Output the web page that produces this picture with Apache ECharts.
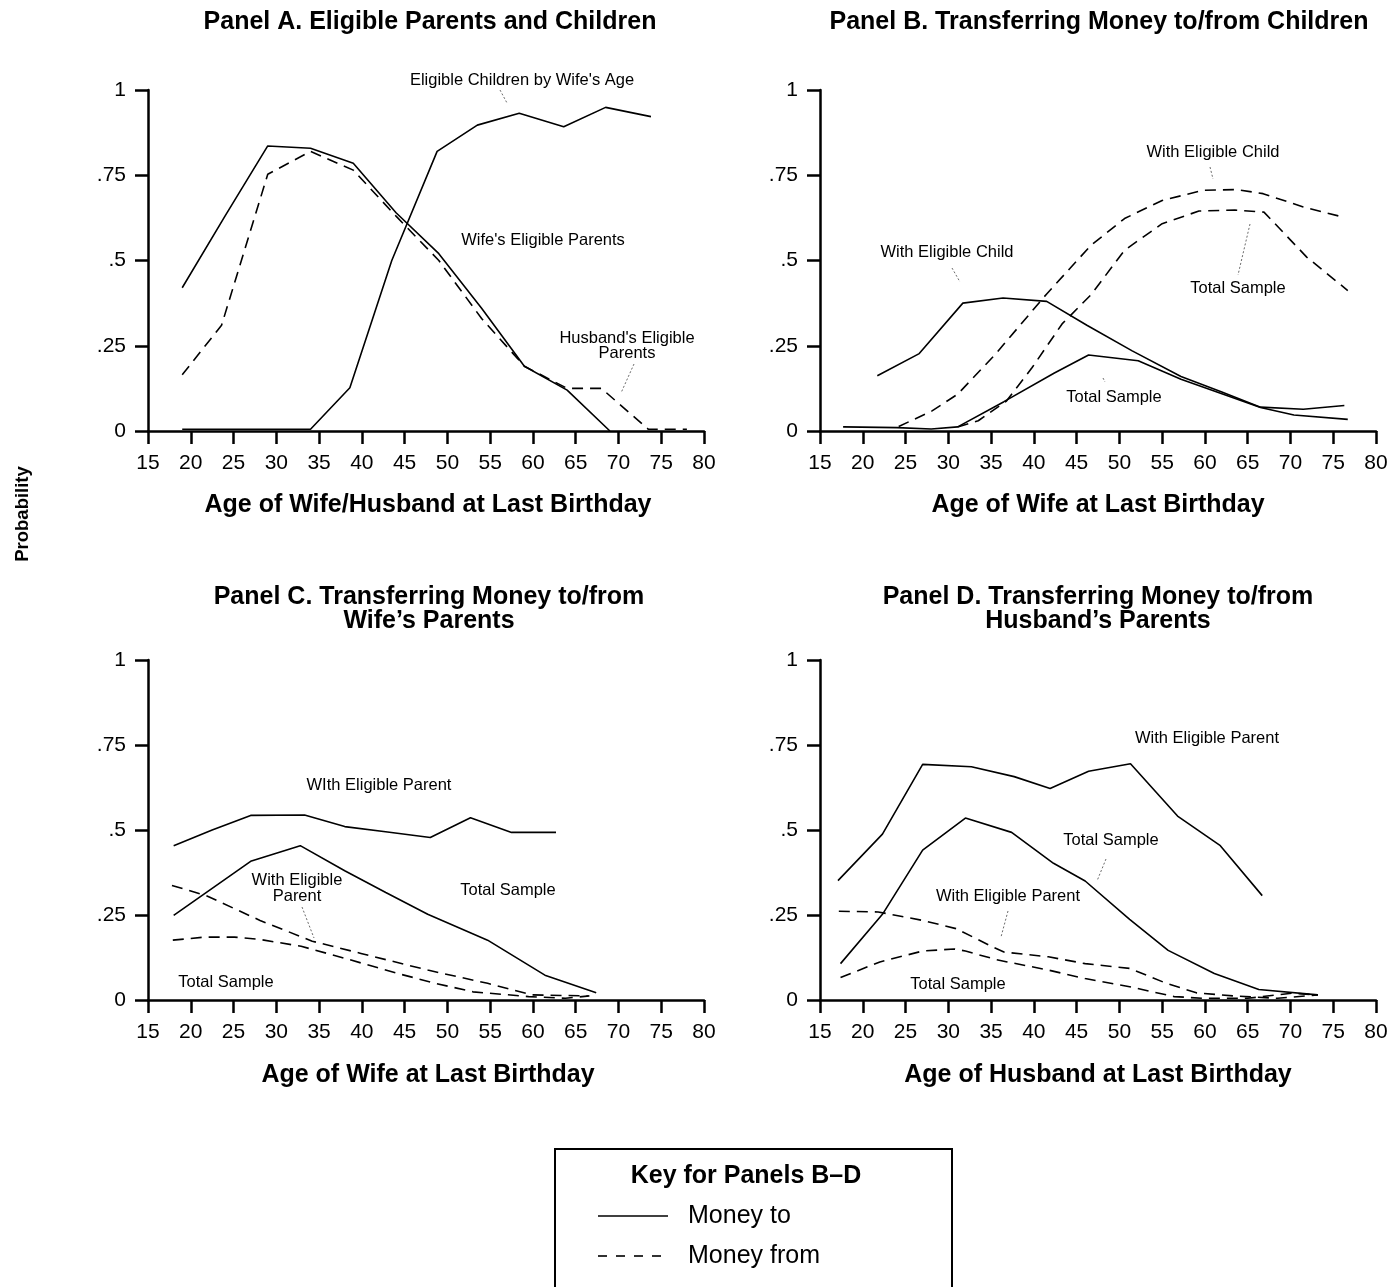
<!DOCTYPE html>
<html>
<head>
<meta charset="utf-8">
<script src="https://cdn.jsdelivr.net/npm/echarts@6/dist/echarts.min.js"></script>
<style>
html,body{margin:0;padding:0;background:#fff;}
#c{width:1391px;height:1287px;}
</style>
</head>
<body>
<div id="c"></div>
<script>
// ---------- DATA (age, probability) ----------
// Panel A
const aWifeParents    = [[19,0.42],[24,0.63],[29,0.836],[34,0.829],[39,0.785],[44,0.64],[49,0.52],[54,0.36],[59,0.19],[64,0.12],[69,0.0]];
const aHusbandParents = [[19,0.165],[23.6,0.31],[29,0.753],[34,0.82],[39,0.765],[44,0.63],[49,0.5],[54,0.33],[59,0.19],[64,0.125],[68,0.125],[73.5,0.005],[78,0.005]];
const aChildren       = [[19,0.005],[24,0.005],[29,0.005],[34,0.005],[38.6,0.127],[43.5,0.5],[48.8,0.82],[53.5,0.897],[58.4,0.932],[63.6,0.892],[68.5,0.949],[73.8,0.922]];
// Panel B
const bToChild        = [[21.7,0.162],[26.6,0.227],[31.7,0.375],[36.4,0.39],[41.5,0.38],[46.2,0.31],[51.5,0.235],[57.2,0.16],[61.9,0.115],[66.5,0.07],[71.5,0.064],[76.3,0.075]];
const bToTotal        = [[17.7,0.012],[24,0.01],[28,0.006],[31.1,0.012],[36.5,0.086],[42.4,0.17],[46.4,0.223],[52.2,0.206],[57.2,0.152],[61.9,0.11],[66.5,0.069],[70.4,0.047],[76.7,0.034]];
const bFromChild      = [[24.2,0.013],[28.1,0.059],[31.1,0.108],[35.5,0.225],[41.5,0.402],[46.7,0.545],[50.6,0.623],[55.0,0.676],[59.8,0.706],[63.7,0.708],[66.8,0.696],[71.5,0.657],[76.2,0.627]];
const bFromTotal      = [[31.1,0.012],[33.5,0.03],[36.8,0.088],[39.8,0.186],[43.3,0.314],[46.7,0.4],[50.6,0.53],[55.0,0.608],[59.3,0.645],[63.5,0.648],[66.9,0.642],[71.9,0.51],[76.7,0.412]];
// Panel C
const cToParent       = [[18,0.454],[22.5,0.5],[27,0.543],[33.3,0.544],[38,0.51],[43,0.494],[48,0.478],[52.7,0.536],[57.5,0.493],[62.7,0.493]];
const cToTotal        = [[18,0.249],[27,0.408],[32.8,0.454],[38,0.38],[42.8,0.316],[47.7,0.252],[54.7,0.176],[61.4,0.073],[67.4,0.021]];
const cFromParent     = [[17.8,0.337],[21.8,0.307],[28.1,0.234],[34.2,0.173],[39.9,0.137],[47.7,0.088],[54.7,0.049],[59.9,0.015],[66.4,0.012]];
const cFromTotal      = [[17.9,0.176],[21.6,0.185],[25.1,0.185],[28.1,0.178],[32.9,0.158],[38.1,0.122],[44.2,0.078],[48.6,0.049],[53,0.024],[59.5,0.01],[63.8,0.005],[66.6,0.012]];
// Panel D
const dToParent       = [[17.1,0.351],[22.3,0.488],[27.0,0.693],[32.7,0.686],[37.7,0.657],[41.9,0.622],[46.4,0.673],[51.3,0.695],[56.8,0.541],[61.8,0.454],[66.7,0.307]];
const dToTotal        = [[17.4,0.107],[22.3,0.252],[27.0,0.441],[32.0,0.535],[37.4,0.493],[42.3,0.402],[46.0,0.35],[51.2,0.237],[55.7,0.146],[61.1,0.078],[66.3,0.031],[73.2,0.015]];
const dFromParent     = [[17.2,0.261],[21.8,0.259],[27,0.234],[30.9,0.21],[35.2,0.156],[36.5,0.141],[41.7,0.127],[46.0,0.107],[51.2,0.093],[55.5,0.049],[59.0,0.021],[63.3,0.012],[68.5,0.005],[73.2,0.015]];
const dFromTotal      = [[17.4,0.066],[22.0,0.112],[27,0.144],[30.7,0.15],[32.0,0.144],[35.6,0.119],[36.9,0.112],[41.7,0.088],[46.0,0.063],[51.2,0.039],[56.4,0.01],[59.8,0.005],[65,0.005],[70.2,0.02],[73.2,0.015]];

const yTickLabels = {'0':'0','0.25':'.25','0.5':'.5','0.75':'.75','1':'1'};

// ---------- CHART ----------
const FONT = '"Liberation Sans", Arial, Helvetica, sans-serif';
const chart = echarts.init(document.getElementById('c'), null, {renderer:'canvas'});

const grids = [
  {left:148, top:90,  width:556, height:341},
  {left:820, top:90,  width:556, height:341},
  {left:148, top:660, width:556, height:340},
  {left:820, top:660, width:556, height:340}
];

function xAxis(i){
  return {type:'value', gridIndex:i, min:15, max:80, interval:5,
    axisLine:{show:true, onZero:false, lineStyle:{color:'#000', width:2.5}},
    axisTick:{show:true, inside:false, length:13, lineStyle:{color:'#000', width:2.5}},
    axisLabel:{show:true, color:'#000', fontSize:21, fontFamily:FONT, margin:22},
    splitLine:{show:false}};
}
function yAxis(i){
  return {type:'value', gridIndex:i, min:0, max:1, interval:0.25,
    axisLine:{show:true, lineStyle:{color:'#000', width:2.5}},
    axisTick:{show:true, inside:false, length:13, lineStyle:{color:'#000', width:2.5}},
    axisLabel:{show:true, color:'#000', fontSize:21, fontFamily:FONT, margin:22,
      formatter: v => yTickLabels[String(+v.toFixed(2))] ?? ''},
    splitLine:{show:false}};
}
function line(i, data, dashed){
  return {type:'line', xAxisIndex:i, yAxisIndex:i, data:data, symbol:'none', silent:true,
    lineStyle:{color:'#000', width:1.6, type: dashed ? [11,7] : 'solid'}, animation:false};
}

function txt(x, y, s, size, bold, align){
  return {type:'text', x:x, y:y, silent:true,
    style:{text:s, fill:'#000', font:(bold?'bold ':'')+size+'px '+FONT, textAlign:align||'center', textVerticalAlign:'middle'}};
}
function leader(x1,y1,x2,y2){
  return {type:'line', silent:true, shape:{x1:x1,y1:y1,x2:x2,y2:y2},
    style:{stroke:'#444', lineWidth:0.8, lineDash:[2,2]}};
}

const TS = 25;   // title size
const AS = 16.5; // annotation size
const prob = txt(0, 0, 'Probability', 18.5, true);
prob.x = 23; prob.y = 514; prob.rotation = Math.PI/2;

const graphics = [
  // panel titles
  txt(430, 22, 'Panel A. Eligible Parents and Children', TS, true),
  txt(1099, 22, 'Panel B. Transferring Money to/from Children', TS, true),
  txt(429, 597, 'Panel C. Transferring Money to/from', TS, true),
  txt(429, 621, 'Wife\u2019s Parents', TS, true),
  txt(1098, 597, 'Panel D. Transferring Money to/from', TS, true),
  txt(1098, 621, 'Husband\u2019s Parents', TS, true),
  // axis names
  txt(428, 505, 'Age of Wife/Husband at Last Birthday', TS, true),
  txt(1098, 505, 'Age of Wife at Last Birthday', TS, true),
  txt(428, 1075, 'Age of Wife at Last Birthday', TS, true),
  txt(1098, 1075, 'Age of Husband at Last Birthday', TS, true),
  prob,
  // Panel A annotations
  txt(522, 80, "Eligible Children by Wife's Age", AS, false),
  leader(500, 90, 507, 103),
  txt(543, 240, "Wife's Eligible Parents", AS, false),
  txt(627, 338, "Husband's Eligible", AS, false),
  txt(627, 353, 'Parents', AS, false),
  leader(634, 364, 621, 393),
  // Panel B annotations
  txt(1213, 152, 'With Eligible Child', AS, false),
  leader(1210, 167, 1213, 179),
  txt(947, 252, 'With Eligible Child', AS, false),
  leader(952, 268, 960, 282),
  txt(1238, 288, 'Total Sample', AS, false),
  leader(1250, 224, 1238, 275),
  txt(1114, 397, 'Total Sample', AS, false),
  leader(1103, 378, 1105, 382),
  // Panel C annotations
  txt(379, 785, 'WIth Eligible Parent', AS, false),
  txt(297, 880, 'With Eligible', AS, false),
  txt(297, 896, 'Parent', AS, false),
  leader(302, 907, 314, 938),
  txt(508, 890, 'Total Sample', AS, false),
  txt(226, 982, 'Total Sample', AS, false),
  // Panel D annotations
  txt(1207, 738, 'With Eligible Parent', AS, false),
  txt(1111, 840, 'Total Sample', AS, false),
  leader(1106, 859, 1097, 881),
  txt(1008, 896, 'With Eligible Parent', AS, false),
  leader(1008, 911, 1001, 937),
  txt(958, 984, 'Total Sample', AS, false),
  // Key box
  {type:'rect', silent:true, shape:{x:555, y:1149, width:397, height:150},
    style:{fill:'#fff', stroke:'#000', lineWidth:2}},
  txt(746, 1176, 'Key for Panels B\u2013D', 25, true),
  {type:'line', silent:true, shape:{x1:598, y1:1216, x2:668, y2:1216}, style:{stroke:'#000', lineWidth:1.6}},
  txt(688, 1216, 'Money to', 25, false, 'left'),
  {type:'line', silent:true, shape:{x1:598, y1:1256, x2:668, y2:1256}, style:{stroke:'#000', lineWidth:1.6, lineDash:[9,9]}},
  txt(688, 1256, 'Money from', 25, false, 'left')
];

chart.setOption({
  backgroundColor:'#fff',
  animation:false,
  grid: grids,
  xAxis: [0,1,2,3].map(xAxis),
  yAxis: [0,1,2,3].map(yAxis),
  series: [
    line(0, aWifeParents, false),
    line(0, aHusbandParents, true),
    line(0, aChildren, false),
    line(1, bToChild, false),
    line(1, bToTotal, false),
    line(1, bFromChild, true),
    line(1, bFromTotal, true),
    line(2, cToParent, false),
    line(2, cToTotal, false),
    line(2, cFromParent, true),
    line(2, cFromTotal, true),
    line(3, dToParent, false),
    line(3, dToTotal, false),
    line(3, dFromParent, true),
    line(3, dFromTotal, true)
  ],
  graphic: graphics
});
</script>
</body>
</html>
